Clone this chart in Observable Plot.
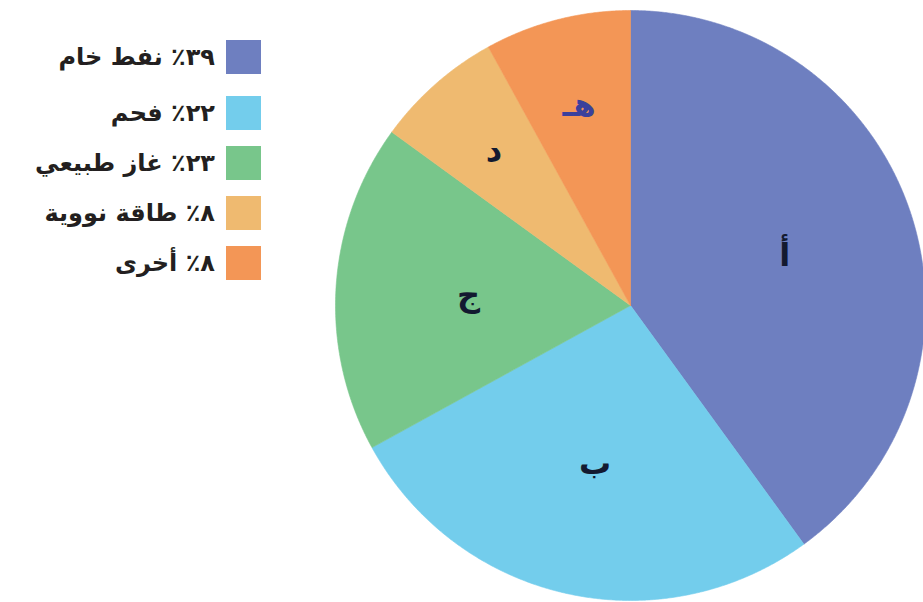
<!DOCTYPE html>
<html><head><meta charset="utf-8">
<script src="https://cdn.jsdelivr.net/npm/d3@7"></script>
<script src="https://cdn.jsdelivr.net/npm/@observablehq/plot@0.6"></script>
<style>
html,body{margin:0;padding:0;background:#fff;}
#wrap{position:relative;width:923px;height:602px;overflow:hidden;}
#legend{position:absolute;left:0;top:40px;width:261px;font-family:"DejaVu Sans",sans-serif;font-weight:bold;font-size:24px;color:#231f20;}
.row{display:flex;justify-content:flex-end;align-items:center;height:34px;margin-bottom:16px;}
.row:first-child{margin-bottom:22px;}
.sw{width:35px;height:34px;margin-left:11px;flex:none;}
.lab{direction:rtl;white-space:nowrap;line-height:34px;}
</style></head><body>
<div id="wrap"><div id="chart"></div><div id="legend"></div></div>
<script>
// slice letters (clockwise from 12 o'clock) and shares as drawn
const sliceKeys = ["أ", "ب", "ج", "د", "هـ"];
const sliceShares = [40, 27, 18, 7, 8];
// legend texts as printed
const legendLabels = ["٣٩٪ نفط خام", "٢٢٪ فحم", "٢٣٪ غاز طبيعي", "٨٪ طاقة نووية", "٨٪ أخرى"];
const sliceColors = ["#6e7fc0", "#73cdec", "#78c68b", "#efba70", "#f39656"];

const W = 923, H = 602, CX = 630, CY = 305, R = 295;
const data = sliceKeys.map((k, i) => ({key: k, share: sliceShares[i]}));
const arcs = d3.pie().sort(null).value(d => d.share).startAngle(0).endAngle(2 * Math.PI)(data);

const pts = arcs.flatMap(a => {
  const k = a.data.key;
  const n = Math.max(2, Math.ceil((a.endAngle - a.startAngle) / 0.005));
  const p = [{key: k, x: 0, y: 0}];
  for (let i = 0; i <= n; i++) {
    const t = a.startAngle + (a.endAngle - a.startAngle) * i / n;
    p.push({key: k, x: Math.sin(t), y: Math.cos(t)});
  }
  p.push({key: k, x: 0, y: 0});
  return p;
});

const labels = arcs.map(a => {
  const m = (a.startAngle + a.endAngle) / 2;
  const rr = a.data.share < 10 ? 0.7 : 0.55;
  return {key: a.data.key, x: rr * Math.sin(m), y: rr * Math.cos(m)};
});

const chart = Plot.plot({
  width: W, height: H,
  margin: 0,
  style: {background: "#fff"},
  x: {domain: [-CX / R, (W - CX) / R], axis: null},
  y: {domain: [(CY - H) / R, CY / R], axis: null},
  color: {domain: sliceKeys, range: sliceColors},
  marks: [
    Plot.line(pts, {x: "x", y: "y", z: "key", fill: "key", stroke: "key", strokeWidth: 0.6, curve: "linear"}),
    Plot.text(labels, {filter: d => d.key !== "هـ", x: "x", y: "y", text: "key", fill: "#131a30",
      fontSize: 32, fontWeight: "bold", fontFamily: "DejaVu Sans"}),
    Plot.text(labels, {filter: d => d.key === "هـ", x: "x", y: "y", text: "key", fill: "#3b409c",
      fontSize: 32, fontWeight: "bold", fontFamily: "DejaVu Sans"})
  ]
});
document.getElementById("chart").append(chart);

const leg = document.getElementById("legend");
legendLabels.forEach((t, i) => {
  const row = document.createElement("div");
  row.className = "row";
  const lab = document.createElement("span");
  lab.className = "lab";
  lab.textContent = t;
  const sw = document.createElement("span");
  sw.className = "sw";
  sw.style.background = sliceColors[i];
  row.append(lab, sw);
  leg.append(row);
});
</script>
</body></html>
